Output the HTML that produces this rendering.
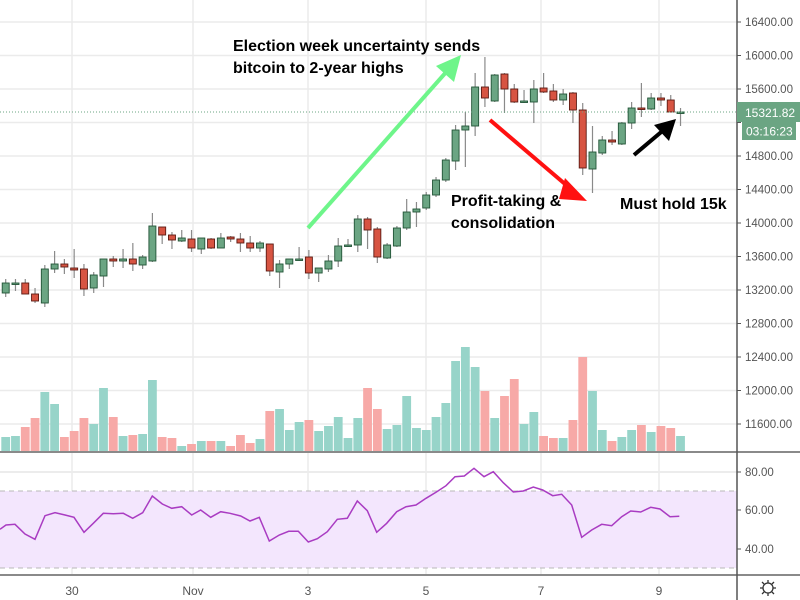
<!DOCTYPE html>
<html><head><meta charset="utf-8"><style>
html,body{margin:0;padding:0;background:#fff;}
svg{display:block;font-family:"Liberation Sans",sans-serif;}
</style></head><body>
<svg id="c" width="800" height="600" xmlns="http://www.w3.org/2000/svg">
<rect width="800" height="600" fill="#fff"/>
<g id="grid"></g>
<rect x="0" y="491" width="737" height="77" fill="#f3e6fd"/>
<line x1="0" y1="491" x2="737" y2="491" stroke="#b8b8b8" stroke-dasharray="5,4"/>
<line x1="0" y1="568" x2="737" y2="568" stroke="#b8b8b8" stroke-dasharray="5,4"/>
<g id="vol"></g>
<g id="cdl"></g>
<polyline id="rsi" fill="none" stroke="#a93cc2" stroke-width="1.5"/>
<line x1="0" y1="112" x2="737" y2="112" stroke="#6ba583" stroke-dasharray="1,2"/>
<line x1="0" y1="452" x2="800" y2="452" stroke="#8a8a8a" stroke-width="2"/>
<line x1="0" y1="575" x2="800" y2="575" stroke="#8a8a8a" stroke-width="2"/>
<line x1="737" y1="0" x2="737" y2="600" stroke="#555" stroke-width="1.5"/>
<g id="lbl" font-size="11.5" fill="#555"></g>
<rect x="737" y="102" width="63" height="20" fill="#6ba583"/>
<text x="745" y="117" font-size="12" fill="#fff">15321.82</text>
<rect x="742" y="122" width="54" height="18" fill="#6ba583"/>
<text x="746" y="135.5" font-size="12" fill="#fff">03:16:23</text>
<!-- arrows -->
<line x1="308" y1="228" x2="448" y2="70" stroke="#6ef58a" stroke-width="4"/>
<polygon points="461,55 436,66 454,82" fill="#6ef58a"/>
<line x1="490" y1="120" x2="572" y2="190" stroke="#ff1111" stroke-width="4"/>
<polygon points="587,201 565,178 559,199" fill="#ff1111" transform="translate(0,0)"/>
<line x1="634" y1="155" x2="666" y2="128" stroke="#000" stroke-width="4"/>
<polygon points="676,119 654,125 669,141" fill="#000"/>
<g font-weight="bold" font-size="16" fill="#000">
<text x="233" y="51">Election week uncertainty sends</text>
<text x="233" y="73">bitcoin to 2-year highs</text>
<text x="451" y="206">Profit-taking &amp;</text>
<text x="451" y="228">consolidation</text>
<text x="620" y="209">Must hold 15k</text>
</g>
<g font-size="12" fill="#555">
<text x="72" y="595" text-anchor="middle">30</text>
<text x="193" y="595" text-anchor="middle">Nov</text>
<text x="308" y="595" text-anchor="middle">3</text>
<text x="426" y="595" text-anchor="middle">5</text>
<text x="541" y="595" text-anchor="middle">7</text>
<text x="659" y="595" text-anchor="middle">9</text>
</g>
<g stroke="#333" fill="none" stroke-width="1.3"><circle cx="768" cy="588" r="5"/>
<path d="M768 580v3M768 593v3M760 588h3M773 588h3M762 582l2 2M772 592l2 2M762 594l2-2M772 584l2-2"/></g>
</svg>
<script>
var NS="http://www.w3.org/2000/svg";
function el(p,t,a){var e=document.createElementNS(NS,t);for(var k in a)e.setAttribute(k,a[k]);document.getElementById(p).appendChild(e);return e;}
// grid
var pl=[16400,16000,15600,15200,14800,14400,14000,13600,13200,12800,12400,12000,11600];
pl.forEach(function(p,i){var y=22+i*33.5;el("grid","line",{x1:0,x2:737,y1:y,y2:y,stroke:"#ebebeb","stroke-width":1.5});
el("grid","line",{x1:737,x2:741,y1:y,y2:y,stroke:"#555"});
var t=el("lbl","text",{x:745,y:y+4});t.textContent=p.toFixed(2);});
[[472,"80.00"],[510,"60.00"],[549,"40.00"]].forEach(function(r){el("grid","line",{x1:0,x2:737,y1:r[0],y2:r[0],stroke:"#e6e6e6","stroke-width":1.5});
el("grid","line",{x1:737,x2:741,y1:r[0],y2:r[0],stroke:"#555"});
var t=el("lbl","text",{x:745,y:r[0]+4});t.textContent=r[1];});
[72,193,308,426,541,659].forEach(function(x){el("grid","line",{x1:x,x2:x,y1:0,y2:575,stroke:"#ebebeb","stroke-width":1.5});});
// candles: [g?, bodyTop, bodyBot, wickTop, wickBot]
var C=[[1,283,293,279,297],[1,283,284,279,291],[0,283,294,279,294],[0,294,301,288,303],[1,269,303,265,307],
[1,264,269,251,273],[0,264,267,259,274],[0,268,270,249,278],[0,269,289,264,296],[1,275,288,272,293],
[1,259,276,259,287],[0,259,261,256,267],[1,259,261,249,268],[0,259,264,243,271],[1,257,265,255,269],
[1,226,261,213,262],[0,227,235,227,244],[0,235,240,232,249],[1,238,241,230,242],[0,239,248,230,252],
[1,238,249,238,254],[0,239,248,238,249],[1,238,248,233,248],[0,237,239,236,242],[0,239,243,233,252],
[0,243,248,236,252],[1,243,248,241,252],[0,244,271,244,276],[1,264,272,260,288],[1,259,264,259,269],
[1,259,260,247,261],[0,257,273,250,279],[1,268,273,268,282],[1,261,269,255,272],[1,246,261,238,267],
[1,245,246,239,247],[1,219,245,215,252],[0,219,230,217,249],[0,229,257,227,263],[1,245,258,243,259],
[1,228,246,226,247],[1,212,228,199,230],[1,209,212,202,227],[1,195,208,192,210],[1,180,195,177,197],
[1,160,180,158,182],[1,130,161,125,170],[1,126,130,112,167],[1,87,126,73,136],[0,87,98,57,107],
[1,75,101,74,102],[0,74,89,73,113],[0,89,102,84,103],[1,101,102,90,103],[1,89,102,80,123],
[0,88,92,73,93],[0,91,100,84,102],[1,94,100,89,105],[0,93,110,92,123],[0,110,168,103,175],
[1,152,169,126,193],[1,140,153,136,155],[0,140,142,131,145],[1,123,144,122,145],[1,108,123,102,129],
[0,108,109,83,117],[1,98,109,93,110],[0,98,100,93,106],[0,100,112,95,112],[1,112,113,108,126]];
var V=[437,436,427,418,392,404,437,431,418,424,388,417,436,435,434,380,437,438,446,444,441,441,441,446,435,443,439,411,409,430,422,420,431,426,417,438,418,388,409,429,425,
396,428,430,417,403,361,347,367,391,418,396,379,424,412,436,438,438,420,357,391,430,441,437,430,425,432,426,428,436];
C.forEach(function(c,i){var x=5.7+i*9.78;var g=c[0];
var vc=g?"#97d4c9":"#f7a9a7";var vt=V[i];el("vol","rect",{x:x-4.4,y:vt,width:8.8,height:451-vt,fill:vc});
var wc=g?"#8a8a8a":"#8a8a8a";el("cdl","line",{x1:x,x2:x,y1:c[3],y2:c[4],stroke:wc,"stroke-width":1.2});
var h=Math.max(c[2]-c[1],1.5);el("cdl","rect",{x:x-3.5,y:c[1],width:7,height:h,fill:g?"#6ba583":"#d75442",stroke:g?"#225437":"#5b1a13","stroke-width":0.9});});
var R1=[[0,568],[18,555],[45,553],[75,582],[105,598],[135,527],[165,518],[195,525],[222,532],[252,577],[280,550],[310,520],[340,521],[370,520],[398,535],[428,518],[457,468],[487,492],[515,505],[545,500],[575,525],[602,510],[632,532],[662,515],[690,520],[722,528],[750,543],[778,532],[808,603],[838,585],[866,574],[895,574],[925,606],[952,596],[982,575],[1012,538],[1042,535],[1072,483],[1102,512],[1130,577],[1160,550],[1190,515]];
var R2=[[18,500],[48,495],[78,475],[108,457],[138,437],[165,410],[193,408],[222,385],[252,410],[280,395],[310,428],[340,456],[370,453],[400,441],[428,450],[458,467],[485,463],[515,495],[545,592],[575,570],[605,553],[635,557],[665,530],[692,513],[722,516],[752,502],[780,507],[810,530],[838,529]];
var pts=R1.map(function(p){return (p[0]/3).toFixed(1)+","+(340+p[1]/3).toFixed(1);}).concat(R2.map(function(p){return (400+p[0]/3).toFixed(1)+","+(340+p[1]/3).toFixed(1);}));
document.getElementById("rsi").setAttribute("points",pts.join(" "));
</script>
</body></html>
